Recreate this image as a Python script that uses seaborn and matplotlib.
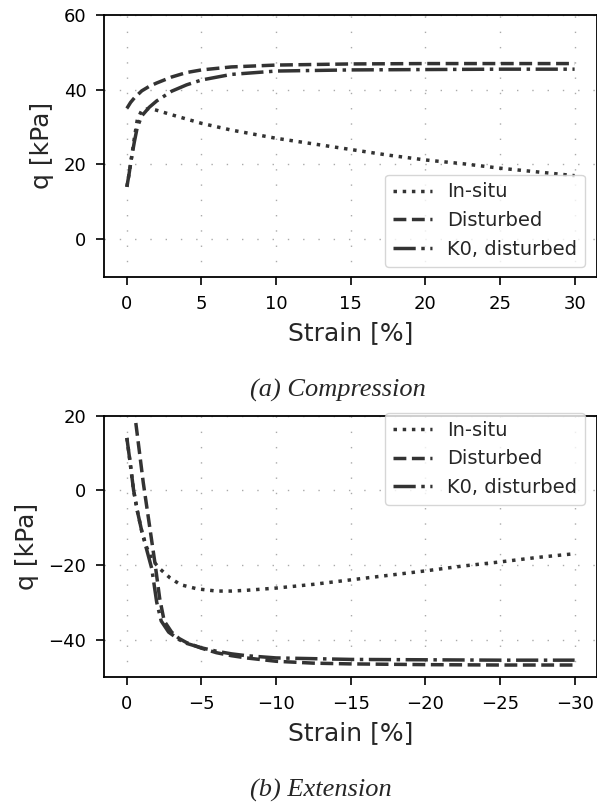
import matplotlib
matplotlib.use("Agg")
import matplotlib.pyplot as plt
import seaborn as sns
import pandas as pd

# ---- data: compression ----
comp_insitu_x = [0, 0.15, 0.3, 0.5, 0.7, 1, 1.5, 2, 3, 5, 7, 10, 12.5, 15, 17.5, 20, 22.5, 25, 27.5, 30]
comp_insitu_q = [14, 17.5, 21.5, 27, 32, 34.5, 35, 34.5, 33.3, 31, 29.2, 27, 25.5, 24, 22.5, 21.2, 20.2, 19, 18, 17]
comp_dist_x = [0, 0.25, 0.5, 1, 1.5, 2, 3, 4, 5, 7, 10, 15, 20, 25, 30]
comp_dist_q = [35, 36.6, 37.8, 39.7, 40.9, 41.8, 43.4, 44.6, 45.3, 46.1, 46.6, 46.9, 47, 47, 47]
comp_k0_x = [0, 0.15, 0.3, 0.5, 0.7, 1, 1.5, 2, 3, 4, 5, 7, 10, 15, 20, 25, 30]
comp_k0_q = [14, 17.5, 21.5, 26, 30, 33, 35.3, 37, 39.6, 41.3, 42.6, 44.1, 45, 45.3, 45.4, 45.5, 45.5]

# ---- data: extension ----
ext_insitu_x = [0, -0.2, -0.45, -0.7, -1, -1.3, -1.67, -2.2, -2.9, -3.6, -4.7, -6, -7, -8, -10, -12.5, -15, -17.5, -20, -22.5, -25, -27.5, -30]
ext_insitu_q = [14, 8, 0, -5.5, -11, -15, -18.5, -21, -23.5, -25.3, -26.4, -27, -27, -26.8, -26.2, -25.2, -24, -22.8, -21.6, -20.3, -19.2, -18, -17]
ext_dist_x = [-0.6, -0.85, -1.1, -1.5, -1.9, -2.2, -2.5, -3, -3.5, -4, -5, -6, -7, -8, -10, -12.5, -15, -20, -25, -30]
ext_dist_q = [18, 10, 2, -9, -20, -29, -35, -38, -39.7, -40.8, -42.3, -43.5, -44.3, -44.9, -45.8, -46.3, -46.5, -46.7, -46.8, -46.8]
ext_k0_x = [0, -0.2, -0.45, -0.7, -1, -1.3, -1.67, -2, -2.3, -2.8, -3.5, -4, -5, -6, -7, -8, -10, -15, -20, -25, -30]
ext_k0_q = [14, 8, 0, -5.5, -11, -15.5, -21, -30, -35, -38, -40, -41, -42.2, -43.1, -43.8, -44.3, -44.9, -45.3, -45.4, -45.5, -45.5]

labels = ["In-situ", "Disturbed", "K0, disturbed"]
styles = [":", "--", "-."]

comp_yticks = [0, 20, 40, 60]
ext_yticks = [-40, -20, 0, 20]
xticks_c = [0, 5, 10, 15, 20, 25, 30]
xticks_e = [0, -5, -10, -15, -20, -25, -30]
xticklabels_e = ["0", "\u22125", "\u221210", "\u221215", "\u221220", "\u221225", "\u221230"]

sns.set_theme(style="ticks")
plt.rcParams["font.family"] = ["DejaVu Sans"]
plt.rcParams["axes.edgecolor"] = "black"
plt.rcParams["axes.linewidth"] = 1.3

fig = plt.figure(figsize=(5.97, 8.02), dpi=100)
ax1 = fig.add_axes([0.175, 0.6552, 0.825, 0.3261])
ax2 = fig.add_axes([0.175, 0.1559, 0.825, 0.3260])

line_col = "#333333"

def draw(ax, data, loc, anchor):
    for (x, q), lab, ls in zip(data, labels, styles):
        df = pd.DataFrame({"x": x, "q": q})
        sns.lineplot(data=df, x="x", y="q", ax=ax, color=line_col, lw=2.5,
                     linestyle=ls, label=lab, sort=False)
    ax.grid(True, linestyle=(0, (1, 10)), color="#aaaaaa", linewidth=1.0)
    ax.tick_params(labelsize=13, length=6, width=1.2, colors="black", pad=7)
    ax.set_xlabel("Strain [%]", fontsize=18, labelpad=6)
    ax.set_ylabel("q [kPa]", fontsize=18, labelpad=7)
    leg = ax.legend(loc=loc, bbox_to_anchor=anchor, borderaxespad=0,
                    fontsize=14, frameon=True, fancybox=True, framealpha=0.8)
    leg.get_frame().set_edgecolor("#cccccc")

draw(ax1, [(comp_insitu_x, comp_insitu_q), (comp_dist_x, comp_dist_q), (comp_k0_x, comp_k0_q)],
     "lower right", (0.976, 0.038))
ax1.set_xlim(-1.5, 31.5)
ax1.set_ylim(-10, 60)
ax1.set_xticks(xticks_c)
ax1.set_yticks(comp_yticks)

draw(ax2, [(ext_insitu_x, ext_insitu_q), (ext_dist_x, ext_dist_q), (ext_k0_x, ext_k0_q)],
     "upper right", (0.976, 1.01))
ax2.set_xlim(1.5, -31.5)
ax2.set_ylim(-50, 20)
ax2.set_xticks(xticks_e)
ax2.set_xticklabels(xticklabels_e)
ax2.set_yticks(ext_yticks)

fig.text(250 / 597, 1 - 390 / 802, "(a) Compression", ha="left", va="center",
         family="Liberation Serif", style="italic", fontsize=19)
fig.text(250 / 597, 1 - 790 / 802, "(b) Extension", ha="left", va="center",
         family="Liberation Serif", style="italic", fontsize=19)

fig.savefig("out.png", dpi=100)
